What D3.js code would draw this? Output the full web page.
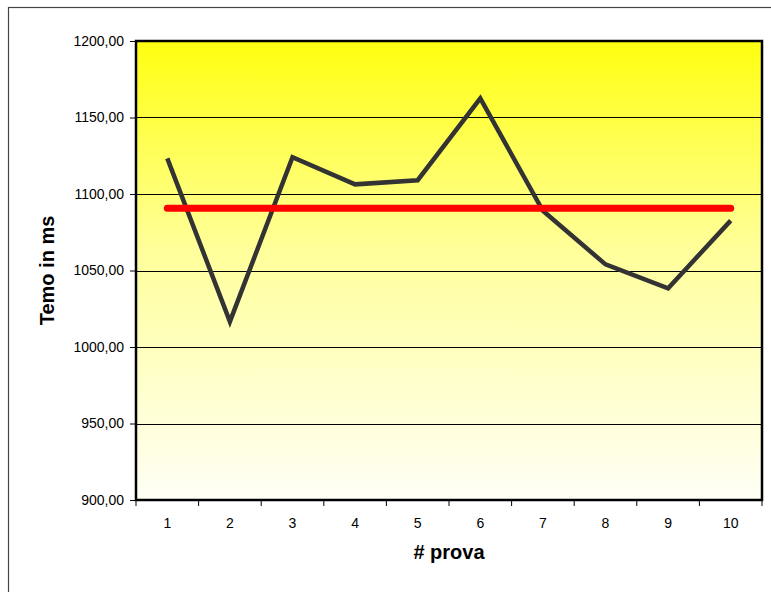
<!DOCTYPE html>
<html>
<head>
<meta charset="utf-8">
<script src="https://cdn.jsdelivr.net/npm/d3@7/dist/d3.min.js"></script>
<style>
  html, body { margin: 0; padding: 0; background: #fff; }
  svg { display: block; font-family: "Liberation Sans", Arial, sans-serif; }
</style>
</head>
<body>
<svg id="chart" width="771" height="592"></svg>
<script>
const categories = ["1", "2", "3", "4", "5", "6", "7", "8", "9", "10"];
const times = [1123.3, 1016.6, 1124.0, 1106.3, 1109.0, 1162.5, 1089.0, 1054.0, 1038.4, 1082.6];
const average = [1090.7, 1090.7, 1090.7, 1090.7, 1090.7, 1090.7, 1090.7, 1090.7, 1090.7, 1090.7];
const yTicks = [900, 950, 1000, 1050, 1100, 1150, 1200];
const xTitle = "# prova";
const yTitle = "Temo in ms";

const svg = d3.select("#chart");
const W = 771, H = 592;
const m = { left: 136, top: 41, right: 762, bottom: 500 };

// outer chart border (extends past the viewport on right and bottom)
svg.append("rect")
  .attr("x", 8.5).attr("y", 7.5)
  .attr("width", 800).attr("height", 700)
  .attr("fill", "none").attr("stroke", "#444").attr("stroke-width", 1.2);

const defs = svg.append("defs");
const grad = defs.append("linearGradient").attr("id", "bg")
  .attr("x1", 0).attr("y1", 0).attr("x2", 0).attr("y2", 1);
grad.append("stop").attr("offset", "0%").attr("stop-color", "#FFFF10");
grad.append("stop").attr("offset", "45%").attr("stop-color", "#FFFF9A");
grad.append("stop").attr("offset", "100%").attr("stop-color", "#FFFFF6");

const x = d3.scaleBand().domain(categories).range([m.left, m.right]);
const y = d3.scaleLinear().domain([900, 1200]).range([m.bottom, m.top]);

svg.append("rect")
  .attr("x", m.left).attr("y", m.top)
  .attr("width", m.right - m.left).attr("height", m.bottom - m.top)
  .attr("fill", "url(#bg)");

// gridlines
svg.append("g").selectAll("line").data(yTicks.filter(d => d > 900 && d < 1200)).join("line")
  .attr("x1", m.left).attr("x2", m.right)
  .attr("y1", d => Math.round(y(d)) + 0.5).attr("y2", d => Math.round(y(d)) + 0.5)
  .attr("stroke", "#000").attr("stroke-width", 1);

// y axis
const yAxis = d3.axisLeft(y).tickValues(yTicks).tickSize(6).tickPadding(6)
  .tickFormat(d => d3.format(".2f")(d).replace(".", ","));
const gy = svg.append("g").attr("transform", `translate(${m.left},0)`).call(yAxis);
gy.select(".domain").remove();
gy.selectAll(".tick line").attr("stroke", "#000");
gy.selectAll(".tick text").attr("font-size", 14).attr("fill", "#000")
  .attr("font-family", "Liberation Sans, Arial, sans-serif");

// x axis ticks at category boundaries
const bounds = categories.map(c => x(c)).concat([m.right]);
svg.append("g").selectAll("line").data(bounds).join("line")
  .attr("x1", d => d).attr("x2", d => d)
  .attr("y1", m.bottom).attr("y2", m.bottom + 6)
  .attr("stroke", "#000").attr("stroke-width", 1);
svg.append("g").selectAll("text").data(categories).join("text")
  .attr("x", d => x(d) + x.bandwidth() / 2)
  .attr("y", m.bottom + 28)
  .attr("text-anchor", "middle").attr("font-size", 14).attr("fill", "#000")
  .text(d => d);

// plot frame
svg.append("rect")
  .attr("x", m.left).attr("y", m.top)
  .attr("width", m.right - m.left).attr("height", m.bottom - m.top)
  .attr("fill", "none").attr("stroke", "#000").attr("stroke-width", 2.5);

const cx = d => x(d) + x.bandwidth() / 2;

// times series
const line = d3.line().x((d, i) => cx(categories[i])).y(d => y(d));
svg.append("path").datum(times)
  .attr("d", line).attr("fill", "none")
  .attr("stroke", "#333333").attr("stroke-width", 4.5)
  .attr("stroke-linejoin", "miter").attr("stroke-linecap", "butt");

// average series
svg.append("path").datum(average)
  .attr("d", line).attr("fill", "none")
  .attr("stroke", "#FF0000").attr("stroke-width", 7)
  .attr("stroke-linecap", "round");

// titles
svg.append("text")
  .attr("x", (m.left + m.right) / 2).attr("y", 559)
  .attr("text-anchor", "middle").attr("font-size", 20).attr("font-weight", "bold")
  .text(xTitle);
svg.append("text")
  .attr("transform", `translate(54, ${(m.top + m.bottom) / 2}) rotate(-90)`)
  .attr("text-anchor", "middle").attr("font-size", 20).attr("font-weight", "bold")
  .text(yTitle);
</script>
</body>
</html>
